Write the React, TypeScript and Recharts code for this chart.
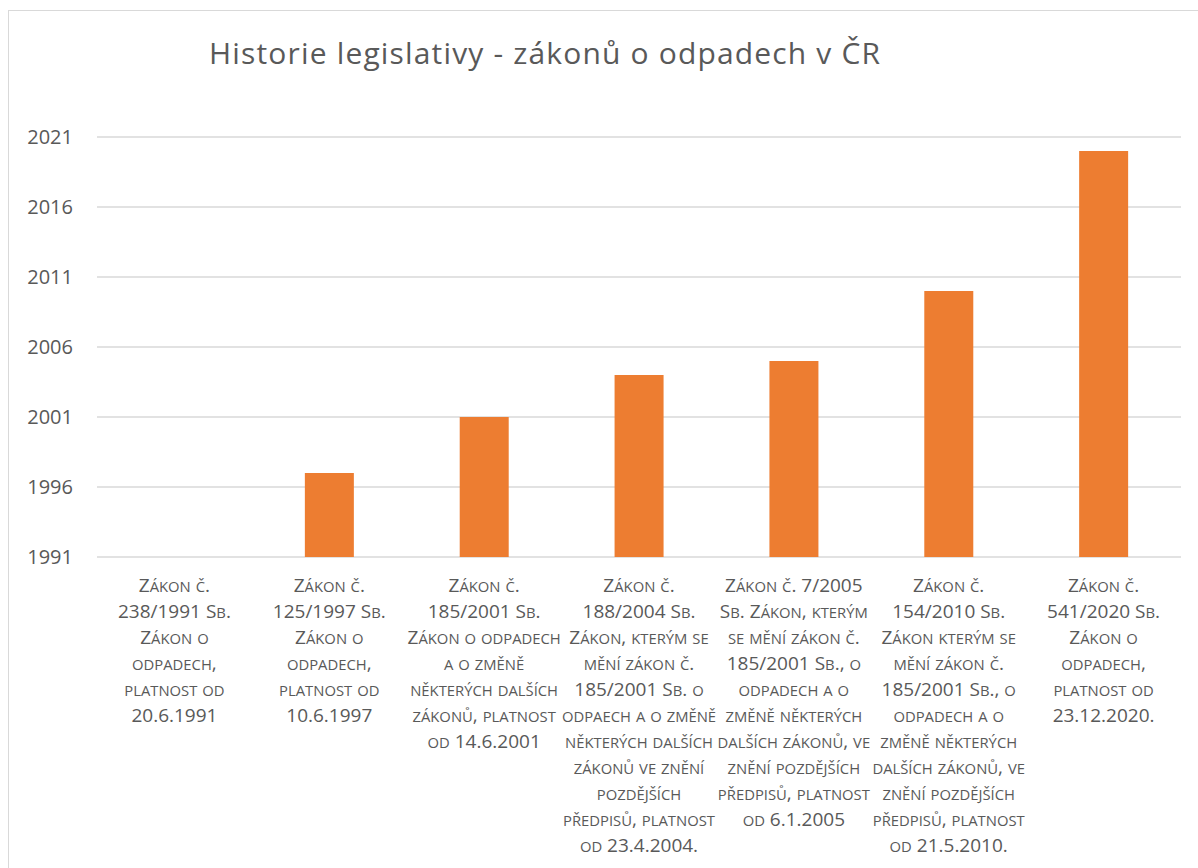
import React from "react";
import { BarChart, Bar, XAxis, YAxis, CartesianGrid } from "recharts";

// effective year of each act
const years = [1991, 1997, 2001, 2004, 2005, 2010, 2020];

// category labels, already broken into lines as in the source chart
const categoryLines = [
  ["Zákon č.", "238/1991 Sb.", "Zákon o", "odpadech,", "platnost od", "20.6.1991"],
  ["Zákon č.", "125/1997 Sb.", "Zákon o", "odpadech,", "platnost od", "10.6.1997"],
  [
    "Zákon č.",
    "185/2001 Sb.",
    "Zákon o odpadech",
    "a o změně",
    "některých dalších",
    "zákonů, platnost",
    "od 14.6.2001",
  ],
  [
    "Zákon č.",
    "188/2004 Sb.",
    "Zákon, kterým se",
    "mění zákon č.",
    "185/2001 Sb. o",
    "odpaech a o změně",
    "některých dalších",
    "zákonů ve znění",
    "pozdějších",
    "předpisů, platnost",
    "od 23.4.2004.",
  ],
  [
    "Zákon č. 7/2005",
    "Sb. Zákon, kterým",
    "se mění zákon č.",
    "185/2001 Sb., o",
    "odpadech a o",
    "změně některých",
    "dalších zákonů, ve",
    "znění pozdějších",
    "předpisů, platnost",
    "od 6.1.2005",
  ],
  [
    "Zákon č.",
    "154/2010 Sb.",
    "Zákon kterým se",
    "mění zákon č.",
    "185/2001 Sb., o",
    "odpadech a o",
    "změně některých",
    "dalších zákonů, ve",
    "znění pozdějších",
    "předpisů, platnost",
    "od 21.5.2010.",
  ],
  ["Zákon č.", "541/2020 Sb.", "Zákon o", "odpadech,", "platnost od", "23.12.2020."],
];

const yTicks = [1991, 1996, 2001, 2006, 2011, 2016, 2021];

const title = "Historie legislativy - zákonů o odpadech v ČR";

const data = years.map((year, i) => ({ id: String(i), year }));

const FONT = "'Open Sans', 'Noto Sans', sans-serif";
const TEXT = "#595959";
const LABEL_SIZE = 19;

// Word-style small caps: lowercase runs drawn as capitals at ~80% size
const smallCaps = (line: string) => {
  const runs = line.match(/(\p{Ll}+|[^\p{Ll}]+)/gu) || [];
  return runs.map((run, i) =>
    /\p{Ll}/u.test(run) ? (
      <tspan key={i} fontSize={LABEL_SIZE * 0.78}>
        {run.toUpperCase()}
      </tspan>
    ) : (
      <tspan key={i} fontSize={LABEL_SIZE}>
        {run}
      </tspan>
    )
  );
};

const CategoryTick = ({ x, y, payload }: any) => {
  const lines = categoryLines[Number(payload.value)] || [];
  return (
    <text textAnchor="middle" fill={TEXT} fontSize={LABEL_SIZE} fontFamily={FONT}>
      {lines.map((line, i) => (
        <tspan key={i} x={x} y={y + 35 + i * 26}>
          {smallCaps(line)}
        </tspan>
      ))}
    </text>
  );
};

export default function App() {
  return (
    <div style={{ position: "absolute", left: 0, top: 0, width: 1198, height: 868, overflow: "hidden" }}>
      <div
        style={{
          position: "absolute",
          left: 8,
          top: 10,
          width: 1300,
          height: 1000,
          borderTop: "1px solid #d9d9d9",
          borderLeft: "1px solid #d9d9d9",
        }}
      />
      <div style={{ position: "absolute", left: 0, top: 0 }}>
        <BarChart
          width={1198}
          height={868}
          data={data}
          margin={{ top: 137, right: 17, bottom: 11, left: 27 }}
        >
          <text
            x={209}
            y={64}
            fill={TEXT}
            fontSize={30}
            fontFamily={FONT}
            textLength={671}
            lengthAdjust="spacing"
          >
            {title}
          </text>
          <CartesianGrid vertical={false} stroke="#d9d9d9" strokeWidth={1.3} />
          <XAxis
            dataKey="id"
            interval={0}
            axisLine={false}
            tickLine={false}
            tickSize={0}
            tickMargin={0}
            height={300}
            tick={<CategoryTick />}
          />
          <YAxis
            type="number"
            domain={[1991, 2021]}
            ticks={yTicks}
            allowDataOverflow
            width={70}
            axisLine={false}
            tickLine={false}
            tickSize={0}
            tickMargin={24}
            tick={{ fill: TEXT, fontSize: 20, fontFamily: FONT }}
          />
          <Bar dataKey="year" fill="#ED7D31" barSize={49} isAnimationActive={false} />
        </BarChart>
      </div>
    </div>
  );
}
